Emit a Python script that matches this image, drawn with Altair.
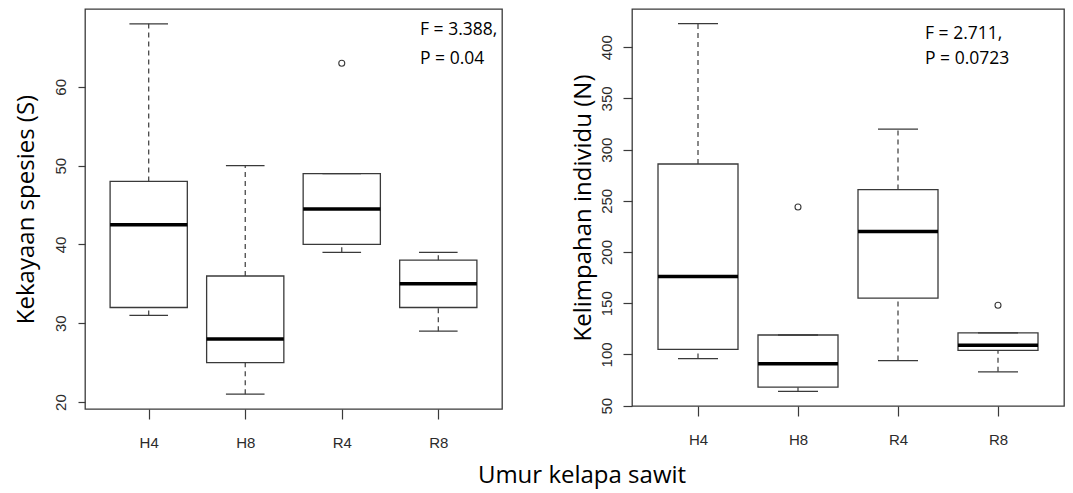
import json
import altair as alt
import pandas as pd

groups = ["H4", "H8", "R4", "R8"]

# Panel 1: Kekayaan spesies (S)
s_low = [31, 21, 39, 29]
s_q1 = [32, 25, 40, 32]
s_med = [42.5, 28, 44.5, 35]
s_q3 = [48, 36, 49, 38]
s_high = [68, 50, 49, 39]
s_out_group = ["R4"]
s_out_value = [63]
s_ticks = [20, 30, 40, 50, 60]
s_title = "Kekayaan spesies (S)"
s_text = ["F = 3.388,", "P = 0.04"]

# Panel 2: Kelimpahan individu (N)
n_low = [96, 64, 94, 83]
n_q1 = [105, 68, 155, 104]
n_med = [176, 91, 220, 109]
n_q3 = [286, 119, 261, 121]
n_high = [423, 119, 320, 121]
n_out_group = ["H8", "R8"]
n_out_value = [244, 148]
n_ticks = [50, 100, 150, 200, 250, 300, 350, 400]
n_title = "Kelimpahan individu (N)"
n_text = ["F = 2.711,", "P = 0.0723"]

x_title = "Umur kelapa sawit"

LINE = "#3a3a3a"
LABEL_FONT = "Liberation Sans"
TEXT_FONT = "Open Sans"
BOXWEX = 0.8
STAPLE = 0.5


def panel(low, q1, med, q3, high, out_g, out_v, ticks, title, text,
          width, height, ytick, ylabpad, ytitlepad, tx, ty, lh):
    pos = [groups.index(g) + 1 for g in groups]
    df = pd.DataFrame({
        "group": groups, "pos": pos,
        "low": low, "q1": q1, "med": med, "q3": q3, "high": high,
    })
    df["left"] = df["pos"] - BOXWEX / 2
    df["right"] = df["pos"] + BOXWEX / 2
    df["cl"] = df["pos"] - BOXWEX * STAPLE / 2
    df["cr"] = df["pos"] + BOXWEX * STAPLE / 2
    out = pd.DataFrame({"group": out_g, "value": out_v})
    out["pos"] = [groups.index(g) + 1 for g in out_g]

    vals = low + high + out_v
    lo, hi = min(vals), max(vals)
    pad = 0.04 * (hi - lo)
    n = len(groups)
    xscale = alt.Scale(domain=[0.5 - 0.04 * n, n + 0.5 + 0.04 * n], nice=False, zero=False)
    yscale = alt.Scale(domain=[lo - pad, hi + pad], nice=False, zero=False)

    xaxis = alt.Axis(
        values=list(range(1, n + 1)),
        labelExpr=json.dumps(groups) + "[datum.value - 1]",
        title=None, domain=False, grid=False, tickSize=10, tickColor=LINE,
        tickWidth=1.2, labelPadding=16, labelFont=LABEL_FONT, labelFontSize=15,
        labelColor="#2b2b2b", labelBaseline="top",
    )
    yaxis = alt.Axis(
        values=ticks, title=title, domain=False, grid=False, tickSize=ytick,
        tickColor=LINE, tickWidth=1.2, labelAngle=270, labelAlign="center",
        labelBaseline="alphabetic", labelPadding=ylabpad, labelFont=LABEL_FONT,
        labelFontSize=15, labelColor="#2b2b2b", titleFont=TEXT_FONT,
        titleFontSize=24, titleFontWeight="normal", titleColor="black",
        titlePadding=ytitlepad,
    )

    base = alt.Chart(df)
    whisk_up = base.mark_rule(color=LINE, strokeWidth=1.2, strokeDash=[5, 4]).encode(
        x=alt.X("pos:Q", scale=xscale, axis=xaxis),
        y=alt.Y("q3:Q", scale=yscale, axis=yaxis), y2="high:Q")
    whisk_lo = base.mark_rule(color=LINE, strokeWidth=1.2, strokeDash=[5, 4]).encode(
        x="pos:Q", y="low:Q", y2="q1:Q")
    box = base.mark_rect(fill="white", stroke=LINE, strokeWidth=1.3).encode(
        x="left:Q", x2="right:Q", y="q1:Q", y2="q3:Q")
    median = base.mark_rule(color="black", strokeWidth=3.5).encode(
        x="left:Q", x2="right:Q", y="med:Q")
    cap_hi = base.mark_rule(color=LINE, strokeWidth=1.3).encode(
        x="cl:Q", x2="cr:Q", y="high:Q")
    cap_lo = base.mark_rule(color=LINE, strokeWidth=1.3).encode(
        x="cl:Q", x2="cr:Q", y="low:Q")
    outl = alt.Chart(out).mark_point(shape="circle", filled=False, color=LINE,
                                      size=36, strokeWidth=1.1, opacity=1).encode(
        x="pos:Q", y="value:Q")
    ann = alt.Chart(pd.DataFrame({"a": [0]})).mark_text(
        text=text, align="left", baseline="alphabetic", font=TEXT_FONT,
        fontSize=17.5, lineHeight=lh, color="black").encode(
        x=alt.value(tx), y=alt.value(ty))
    return alt.layer(whisk_up, whisk_lo, box, median, cap_hi, cap_lo, outl, ann).properties(
        width=width, height=height)


left = panel(s_low, s_q1, s_med, s_q3, s_high, s_out_group, s_out_value, s_ticks,
             s_title, s_text, 417, 400, 7, 13, 15, 335, 26, 29)
right = panel(n_low, n_q1, n_med, n_q3, n_high, n_out_group, n_out_value, n_ticks,
              n_title, n_text, 432, 397, 9, 12, 4, 293, 30, 25)

chart = alt.hconcat(left, right, spacing=67).properties(
    padding={"left": 5, "top": 0, "right": 0, "bottom": 3},
    title=alt.TitleParams(x_title, orient="bottom", anchor="middle", dx=43,
                          font=TEXT_FONT, fontSize=24, fontWeight="normal",
                          color="black", offset=13),
).configure_view(stroke=LINE, strokeWidth=1.3)

chart.save("out.html", embed_options={"renderer": "svg", "actions": False})
